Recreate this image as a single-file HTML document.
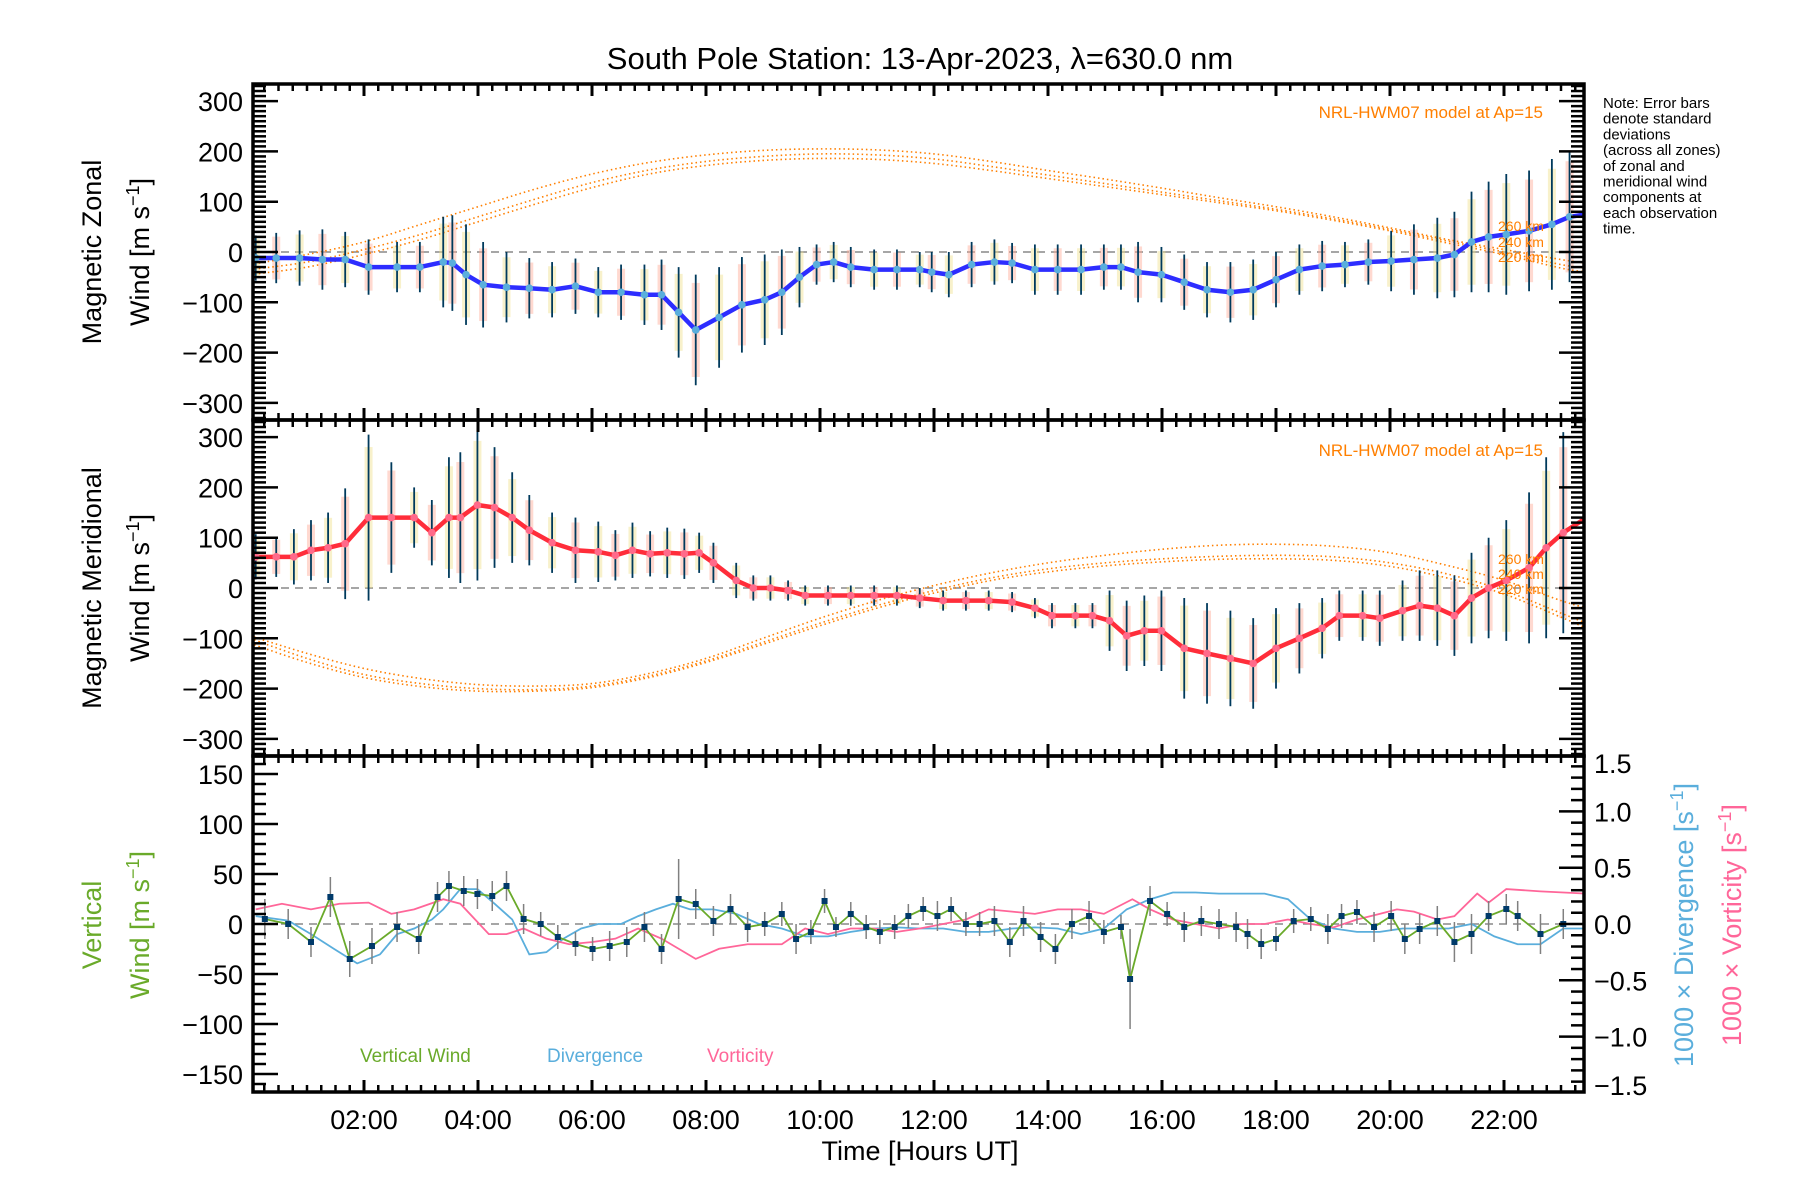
<!DOCTYPE html>
<html><head><meta charset="utf-8">
<style>
html,body{margin:0;padding:0;background:#fff;}
svg{display:block;font-family:"Liberation Sans",sans-serif;}
</style></head>
<body>
<svg id="chart" width="1800" height="1200" viewBox="0 0 1800 1200" xmlns="http://www.w3.org/2000/svg">
<rect x="0" y="0" width="1800" height="1200" fill="#fff"/>
<text x="920" y="69" font-size="31" text-anchor="middle">South Pole Station: 13-Apr-2023, λ=630.0 nm</text>
<g id="content"></g>
<g font-size="15" fill="#000">
<text x="1603" y="108">Note: Error bars</text>
<text x="1603" y="123.7">denote standard</text>
<text x="1603" y="139.4">deviations</text>
<text x="1603" y="155.1">(across all zones)</text>
<text x="1603" y="170.8">of zonal and</text>
<text x="1603" y="186.5">meridional wind</text>
<text x="1603" y="202.2">components at</text>
<text x="1603" y="217.9">each observation</text>
<text x="1603" y="233.6">time.</text>
</g>
</svg>
<script>
// ---------- data ----------
const xTickLabels=["02:00","04:00","06:00","08:00","10:00","12:00","14:00","16:00","18:00","20:00","22:00"];
const xTickHours=[2,4,6,8,10,12,14,16,18,20,22];
const windTicks=[300,200,100,0,-100,-200,-300];
const vertTicks=[150,100,50,0,-50,-100,-150];
const ratioTicks=[1.5,1.0,0.5,0.0,-0.5,-1.0,-1.5];

const zonalT=[0.10,0.46,0.87,1.27,1.67,2.08,2.58,2.98,3.39,3.55,3.79,4.09,4.50,4.90,5.30,5.71,6.11,6.51,6.92,7.22,7.52,7.82,8.23,8.63,9.03,9.33,9.64,9.94,10.24,10.54,10.95,11.35,11.75,11.96,12.26,12.66,13.06,13.37,13.77,14.17,14.58,14.98,15.28,15.58,15.99,16.39,16.79,17.20,17.60,18.00,18.41,18.81,19.21,19.62,20.02,20.42,20.83,21.13,21.43,21.73,22.04,22.44,22.84,23.15,23.45];
const zonalV=[-12,-12,-12,-15,-15,-30,-30,-30,-20,-22,-45,-65,-70,-72,-75,-68,-80,-80,-85,-85,-120,-155,-130,-105,-95,-80,-50,-25,-20,-30,-35,-35,-35,-40,-45,-25,-20,-22,-35,-35,-35,-30,-30,-40,-45,-60,-75,-80,-75,-55,-35,-28,-25,-20,-18,-15,-12,-5,20,30,35,42,55,70,75];
const zonalE=[45,50,55,60,55,55,50,50,90,95,100,85,70,60,55,55,50,55,60,70,90,110,100,95,90,85,60,40,40,40,40,40,35,40,45,45,45,40,50,50,50,45,45,60,55,55,55,60,60,55,50,50,45,45,60,70,80,85,100,110,120,120,130,130,110];
const meridT=[0.10,0.46,0.77,1.07,1.37,1.67,2.08,2.48,2.88,3.19,3.49,3.69,3.99,4.29,4.60,4.90,5.30,5.71,6.11,6.41,6.71,7.02,7.32,7.62,7.88,8.13,8.53,8.83,9.13,9.44,9.74,10.14,10.54,10.95,11.35,11.75,12.16,12.56,12.96,13.37,13.77,14.07,14.48,14.78,15.08,15.38,15.69,15.99,16.39,16.79,17.20,17.60,18.00,18.41,18.81,19.11,19.52,19.82,20.22,20.52,20.83,21.13,21.43,21.73,22.04,22.44,22.74,23.04,23.45];
const meridV=[62,62,62,75,80,88,140,140,140,110,140,140,165,160,140,115,90,75,72,65,75,68,70,68,70,50,15,0,0,-5,-15,-15,-15,-15,-15,-20,-25,-25,-25,-28,-40,-55,-55,-55,-65,-95,-85,-85,-120,-130,-140,-150,-120,-100,-80,-55,-55,-60,-45,-35,-40,-55,-20,0,15,40,80,110,140];
const meridE=[45,40,55,60,70,110,165,110,60,65,120,130,150,120,90,70,60,65,60,50,55,45,50,50,40,40,35,25,25,20,20,20,20,20,20,20,20,20,20,20,20,25,25,25,60,70,70,80,100,100,95,90,80,70,60,50,50,55,60,70,75,80,90,100,120,150,180,200,240];

const hwmT=[0,1,2,3,4,5,6,7,8,9,10,11,12,13,14,15,16,17,18,19,20,21,22,23,23.45];
const hwmZonal260=[-25,-5,20,55,90,125,155,178,193,202,205,203,195,180,162,145,127,108,90,70,48,25,5,-15,-22];
const hwmZonal240=[-35,-20,5,35,70,105,138,163,180,190,195,193,185,170,153,136,119,102,85,66,45,22,0,-25,-32];
const hwmZonal220=[-45,-30,-5,25,60,95,128,155,172,182,186,184,176,162,146,130,114,98,82,63,42,18,-5,-32,-40];
const hwmMerid260=[-95,-130,-160,-180,-192,-195,-190,-170,-140,-100,-60,-25,5,30,50,65,77,85,87,83,70,45,15,-25,-40];
const hwmMerid240=[-100,-140,-172,-190,-200,-202,-195,-175,-145,-108,-70,-35,-5,20,38,50,58,63,65,62,50,28,-5,-50,-70];
const hwmMerid220=[-110,-148,-178,-196,-205,-205,-198,-178,-148,-112,-75,-40,-10,15,32,44,52,57,58,55,43,20,-12,-58,-80];

const vertT=[0.26,0.67,1.07,1.41,1.75,2.14,2.58,2.96,3.29,3.49,3.75,3.99,4.25,4.50,4.80,5.10,5.40,5.71,6.01,6.31,6.61,6.92,7.22,7.52,7.82,8.13,8.43,8.73,9.03,9.33,9.58,9.84,10.08,10.28,10.54,10.81,11.05,11.31,11.55,11.81,12.06,12.30,12.56,12.80,13.06,13.33,13.57,13.87,14.13,14.42,14.72,14.98,15.28,15.44,15.79,16.09,16.39,16.69,17.00,17.30,17.50,17.74,18.00,18.31,18.61,18.91,19.15,19.42,19.72,20.02,20.26,20.52,20.83,21.13,21.43,21.73,22.04,22.24,22.64,23.04,23.45];
const vertV=[5,0,-18,27,-35,-22,-3,-15,27,38,33,30,28,38,5,0,-13,-20,-25,-22,-18,-3,-25,25,20,3,15,-3,0,10,-15,-8,23,-3,10,-3,-8,-3,8,15,8,15,0,0,3,-18,3,-13,-25,0,8,-8,-3,-55,23,10,-3,3,0,-3,-10,-20,-15,3,5,-5,8,12,-3,8,-15,-5,3,-18,-10,8,15,8,-10,0,0];
const vertE=[20,15,15,20,18,18,15,15,15,15,15,15,15,15,15,12,12,12,12,15,15,15,15,40,15,15,15,15,12,12,15,12,12,10,12,12,12,12,12,12,15,12,12,12,15,15,15,15,15,15,15,12,12,50,15,12,15,15,15,15,15,15,12,12,12,15,12,12,15,15,15,15,15,20,20,15,15,15,20,15,15];

const divT=[0.10,0.67,1.07,1.47,1.88,2.28,2.58,2.88,3.19,3.39,3.69,3.99,4.29,4.60,4.90,5.20,5.50,5.81,6.11,6.51,6.81,7.12,7.42,7.72,8.13,8.53,8.93,9.33,9.74,10.14,10.54,10.95,11.35,11.75,12.16,12.56,12.96,13.37,13.77,14.17,14.58,14.98,15.38,15.79,16.19,16.59,17.00,17.40,17.80,18.21,18.61,19.01,19.42,19.82,20.22,20.62,21.03,21.43,21.83,22.24,22.64,23.04,23.45];
const divV=[0.07,0.03,-0.09,-0.22,-0.35,-0.27,-0.09,-0.04,0.04,0.13,0.31,0.31,0.18,0.04,-0.27,-0.25,-0.13,-0.04,0,0,0.07,0.13,0.18,0.13,0.13,0.09,0,-0.04,-0.11,-0.11,-0.07,-0.04,-0.03,-0.04,-0.04,-0.07,-0.07,-0.04,-0.03,-0.04,-0.09,-0.04,0.13,0.22,0.28,0.28,0.27,0.27,0.27,0.22,0.04,-0.04,-0.07,-0.07,-0.04,-0.04,-0.04,0,-0.11,-0.18,-0.18,-0.04,-0.04];
const vortT=[0.10,0.56,1.07,1.57,2.08,2.48,2.88,3.39,3.69,4.19,4.50,4.80,5.20,5.60,6.01,6.41,6.81,7.22,7.82,8.23,8.73,9.33,9.74,10.14,10.54,10.95,11.35,11.75,12.16,12.56,12.96,13.37,13.77,14.17,14.58,14.98,15.48,15.79,16.19,16.59,17.00,17.40,17.80,18.21,18.61,19.01,19.42,19.82,20.12,20.42,20.83,21.13,21.53,21.73,22.04,22.64,23.45];
const vortV=[0.13,0.18,0.13,0.18,0.19,0.09,0.13,0.22,0.18,-0.09,-0.09,-0.04,-0.13,-0.18,-0.16,-0.13,-0.04,-0.13,-0.31,-0.22,-0.18,-0.18,-0.04,-0.09,-0.04,-0.04,-0.07,-0.04,0,0.04,0.13,0.11,0.09,0.13,0.13,0.09,0.22,0.13,0.04,0,-0.04,0,0,0.04,0,-0.03,0.04,0.09,0.13,0.11,0.04,0.07,0.27,0.19,0.31,0.29,0.27];

// ---------- geometry ----------
const L=253,R=1584;
const P=[{top:84,bot:420,zero:252},{top:420,bot:756,zero:588},{top:756,bot:1092,zero:924}];
const X=h=>250+57*h;
const YW=(p,v)=>P[p].zero-v*0.503;
const YV=v=>P[2].zero-v*1.0;
const YR=v=>P[2].zero-v*112.6;

const NS="http://www.w3.org/2000/svg";
const root=document.getElementById('content');
function mk(tag,attrs,parent){const e=document.createElementNS(NS,tag);for(const k in attrs)e.setAttribute(k,attrs[k]);(parent||root).appendChild(e);return e;}
function smooth(pts){let d=`M${pts[0][0]},${pts[0][1]}`;for(let i=0;i<pts.length-1;i++){const p0=pts[i-1]||pts[i],p1=pts[i],p2=pts[i+1],p3=pts[i+2]||p2;d+=` C${p1[0]+(p2[0]-p0[0])/6},${p1[1]+(p2[1]-p0[1])/6} ${p2[0]-(p3[0]-p1[0])/6},${p2[1]-(p3[1]-p1[1])/6} ${p2[0]},${p2[1]}`;}return d;}

const defs=mk('defs',{});
P.forEach((p,i)=>{const c=mk('clipPath',{id:'clip'+i},defs);mk('rect',{x:L,y:p.top,width:R-L,height:p.bot-p.top},c);});

P.forEach((p,i)=>{const z=mk('line',{x1:L,x2:R,y1:p.zero,y2:p.zero,stroke:'#888','stroke-width':1.5,'stroke-dasharray':'8 6'});

});

function windPanel(pi,T,V,E,lineColor,dotColor,hwm,name){
  const g=mk('g',{'clip-path':`url(#clip${pi})`});
  
  
  T.forEach((t,i)=>{const b=mk('rect',{x:X(t)-4,y:YW(pi,V[i]+E[i]*0.85),width:8,height:E[i]*0.85*2*0.503,fill:i%2?'rgba(255,170,150,0.45)':'rgba(240,225,140,0.45)'},g);
    
    });
  hwm.forEach(arr=>{const pts=hwmT.map((t,i)=>[X(t),YW(pi,arr[i])]);const c=mk('path',{d:smooth(pts),fill:'none',stroke:'#ff7f00','stroke-width':1.6,'stroke-dasharray':'1.5 3'},g);
    
    });
  T.forEach((t,i)=>{const e=mk('line',{x1:X(t),x2:X(t),y1:YW(pi,V[i]+E[i]),y2:YW(pi,V[i]-E[i]),stroke:'#003a5c','stroke-width':1.8},g);
    
    });
  const ln=mk('path',{d:'M'+T.map((t,i)=>X(t)+','+YW(pi,V[i])).join(' L'),fill:'none',stroke:lineColor,'stroke-width':4.5,'stroke-linejoin':'round'},g);
  
  
  T.forEach((t,i)=>{const d=mk('circle',{cx:X(t),cy:YW(pi,V[i]),r:3.8,fill:dotColor},g);
    
    });
}
windPanel(0,zonalT,zonalV,zonalE,'#2d2dff','#5aaedc',[hwmZonal260,hwmZonal240,hwmZonal220],'zonal');
windPanel(1,meridT,meridV,meridE,'#ff2d3a','#ff6a8a',[hwmMerid260,hwmMerid240,hwmMerid220],'meridional');

(function(){
  const g=mk('g',{'clip-path':'url(#clip2)'});
  
  
  const dv=mk('path',{d:'M'+divT.map((t,i)=>X(t)+','+YR(divV[i])).join(' L'),fill:'none',stroke:'#5aaedc','stroke-width':1.8},g);
  
  
  const vo=mk('path',{d:'M'+vortT.map((t,i)=>X(t)+','+YR(vortV[i])).join(' L'),fill:'none',stroke:'#ff6699','stroke-width':1.8},g);
  
  
  vertT.forEach((t,i)=>{const e=mk('line',{x1:X(t),x2:X(t),y1:YV(vertV[i]+vertE[i]),y2:YV(vertV[i]-vertE[i]),stroke:'#808080','stroke-width':1.5},g);
    
    });
  const vl=mk('path',{d:'M'+vertT.map((t,i)=>X(t)+','+YV(vertV[i])).join(' L'),fill:'none',stroke:'#6aaa2a','stroke-width':1.8},g);
  
  
  vertT.forEach((t,i)=>{const s=mk('rect',{x:X(t)-3,y:YV(vertV[i])-3,width:6,height:6,fill:'#003a6a'},g);
    
    });
})();

const ax=mk('g',{stroke:'#000',fill:'none'});


P.forEach((p,pi)=>{
  mk('rect',{x:L,y:p.top,width:R-L,height:p.bot-p.top,'stroke-width':3.5},ax);
  for(let m=0;m<=23.4*4;m++){const h=m/4;const x=X(h);if(x<L||x>R)continue;const maj=(m%8===0);const len=maj?12:7;
    mk('line',{x1:x,x2:x,y1:p.bot,y2:p.bot-len,'stroke-width':maj?3:2.5},ax);
    mk('line',{x1:x,x2:x,y1:p.top,y2:p.top+len,'stroke-width':maj?3:2.5},ax);}
  if(pi<2){for(let v=-330;v<=330;v+=10){const y=YW(pi,v);const maj=(v%100===0);const len=maj?25:13;
      mk('line',{x1:L,x2:L+len,y1:y,y2:y,'stroke-width':2.5},ax);
      mk('line',{x1:R,x2:R-len,y1:y,y2:y,'stroke-width':2.5},ax);}}
  else{for(let v=-160;v<=160;v+=10){const y=YV(v);const maj=(v%50===0);const len=maj?25:13;mk('line',{x1:L,x2:L+len,y1:y,y2:y,'stroke-width':2.5},ax);}
      for(let k=-14;k<=14;k++){const y=YR(k/10);const maj=(k%5===0);const len=maj?25:13;mk('line',{x1:R,x2:R-len,y1:y,y2:y,'stroke-width':2.5},ax);}}
});

const tl=mk('g',{'font-size':27,fill:'#000'});


[0,1].forEach(pi=>windTicks.forEach(v=>{const t=mk('text',{x:243,y:YW(pi,v)+10,'text-anchor':'end'},tl);t.textContent=String(v).replace('-','−');}));
vertTicks.forEach(v=>{const t=mk('text',{x:243,y:YV(v)+10,'text-anchor':'end'},tl);t.textContent=String(v).replace('-','−');});
ratioTicks.forEach(v=>{const adj=v>=1.5?8:(v<=-1.5?-8:0);const t=mk('text',{x:1594,y:YR(v)+10+adj,'text-anchor':'start'},tl);t.textContent=v.toFixed(1).replace('-','−');});
xTickHours.forEach((h,i)=>{const t=mk('text',{x:X(h),y:1129,'text-anchor':'middle'},tl);t.textContent=xTickLabels[i];});

function vtext(x,y,txt,color,name,size){const t=mk('text',{x:x,y:y,'font-size':size||27,fill:color,'text-anchor':'middle',transform:`rotate(-90 ${x} ${y})`});t.innerHTML=txt;
  
  return t;}
const unit='Wind [m s<tspan baseline-shift="super" font-size="18">−1</tspan>]';
vtext(101,252,'Magnetic Zonal','#000','zonal-axis-title');
vtext(149,252,unit,'#000','zonal-axis-unit');
vtext(101,588,'Magnetic Meridional','#000','meridional-axis-title');
vtext(149,588,unit,'#000','meridional-axis-unit');
vtext(101,925,'Vertical','#6aaa2a','vertical-axis-title');
vtext(149,925,unit,'#6aaa2a','vertical-axis-unit');
vtext(1693,925,'1000 × Divergence [s<tspan baseline-shift="super" font-size="18">−1</tspan>]','#5aaedc','divergence-axis-title');
vtext(1741,925,'1000 × Vorticity [s<tspan baseline-shift="super" font-size="18">−1</tspan>]','#ff6699','vorticity-axis-title');

const xt=mk('text',{x:920,y:1160,'font-size':27,'text-anchor':'middle',fill:'#000'});xt.textContent='Time [Hours UT]';



[[112,0],[450,1]].forEach(([y,pi])=>{const t=mk('text',{x:1543,y:y+6,'font-size':17,fill:'#ff7f00','text-anchor':'end'});t.textContent='NRL-HWM07 model at Ap=15';
  
  });
[['260 km',226],['240 km',242],['220 km',257],['260 km',559],['240 km',574],['220 km',589]].forEach(([s,y])=>{const t=mk('text',{x:1498,y:y+5,'font-size':14,fill:'#ff7f00'});t.textContent=s;
  
  });

[['Vertical Wind',360,'#6aaa2a'],['Divergence',547,'#5aaedc'],['Vorticity',707,'#ff6699']].forEach(([s,x,c])=>{const t=mk('text',{x:x,y:1062,'font-size':19,fill:c});t.textContent=s;
  
  });
</script>
</body></html>
